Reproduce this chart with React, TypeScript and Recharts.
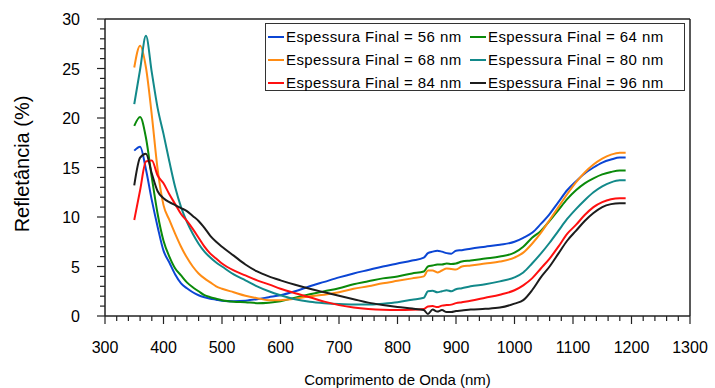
import React from "react";
import { LineChart, Line, XAxis, YAxis, Legend, ReferenceLine } from "recharts";

// wavelength (nm) shared by every series
const WAVELENGTHS = [
  350, 360, 370, 380, 390, 400, 410, 420, 430, 440, 450, 460, 470, 480, 490, 500,
  520, 540, 560, 580, 600, 625, 650, 675, 700, 725, 750, 775, 800, 825, 845, 852,
  860, 868, 876, 884, 892, 900, 910, 925, 950, 975, 1000, 1015, 1030, 1045, 1060,
  1075, 1090, 1105, 1120, 1135, 1150, 1165, 1180, 1190,
];

// reflectance (%) per final thickness
const R56 = [
  16.7, 17.1, 14.8, 11.7, 9.0, 6.6, 5.4, 4.2, 3.3, 2.8, 2.4, 2.1, 1.9, 1.75, 1.65, 1.55,
  1.5, 1.55, 1.7, 1.9, 2.1, 2.5, 3.0, 3.45, 3.9, 4.3, 4.65, 5.0, 5.3, 5.6, 5.9, 6.35,
  6.5, 6.6, 6.5, 6.35, 6.3, 6.6, 6.65, 6.8, 7.0, 7.2, 7.5, 7.9, 8.4, 9.3, 10.3,
  11.5, 12.7, 13.6, 14.4, 15.0, 15.5, 15.8, 16.0, 16.0,
];
const R64 = [
  19.2, 20.1, 18.0, 14.0, 10.3, 7.6, 6.0, 4.8, 4.1, 3.4, 2.9, 2.5, 2.1, 1.9, 1.75, 1.6,
  1.45, 1.4, 1.3, 1.35, 1.5, 1.85, 2.2, 2.5, 2.8, 3.2, 3.5, 3.8, 4.0, 4.3, 4.5, 5.0,
  5.1, 5.2, 5.2, 5.3, 5.25, 5.3, 5.5, 5.6, 5.8, 6.0, 6.4, 7.0, 7.9, 8.6, 9.6,
  10.7, 11.8, 12.7, 13.4, 13.9, 14.3, 14.55, 14.7, 14.7,
];
const R68 = [
  25.1, 27.3, 25.1, 20.3, 14.8, 11.2, 9.7, 8.3, 7.0, 5.9, 5.0, 4.3, 3.8, 3.4, 3.0, 2.75,
  2.4, 2.05, 1.8, 1.6, 1.6, 1.75, 2.0, 2.15, 2.4, 2.75, 3.0, 3.3, 3.55, 3.8, 4.0, 4.6,
  4.6, 4.4, 4.6, 4.8, 4.75, 4.7, 5.0, 5.1, 5.3, 5.5, 5.9, 6.4, 7.3, 8.4, 9.7,
  11.0, 12.3, 13.5, 14.5, 15.3, 15.9, 16.3, 16.5, 16.5,
];
const R80 = [
  21.4, 24.9, 28.3, 24.6, 21.0, 18.4, 15.6, 13.0, 11.0, 9.5, 8.3, 7.3, 6.5, 5.9, 5.4, 5.0,
  4.2, 3.6, 3.0, 2.5, 2.1, 1.7, 1.45, 1.3, 1.2, 1.15, 1.15, 1.25, 1.4, 1.65, 1.85, 2.5,
  2.55, 2.4, 2.5, 2.6, 2.5, 2.7, 2.8, 3.0, 3.2, 3.5, 3.9, 4.4, 5.3, 6.3, 7.4,
  8.6, 9.8, 10.8, 11.7, 12.5, 13.1, 13.5, 13.7, 13.7,
];
const R84 = [
  9.7, 12.7, 15.6, 15.7, 14.2, 13.4, 12.3, 11.3, 10.3, 9.6, 8.8, 7.9, 7.0, 6.3, 5.8, 5.3,
  4.6, 4.1, 3.6, 3.2, 2.75, 2.3, 1.9, 1.45, 1.1, 0.85, 0.7, 0.62, 0.6, 0.62, 0.7, 0.95,
  1.0, 0.9, 1.05, 1.1, 1.15, 1.3, 1.4, 1.55, 1.85, 2.15, 2.6, 3.1, 3.8, 4.8, 5.8,
  7.0, 8.3, 9.2, 10.2, 11.0, 11.5, 11.8, 11.9, 11.9,
];
const R96 = [
  13.2, 16.0, 16.4, 14.4, 12.6, 11.9, 11.5, 11.2, 10.9, 10.6, 10.1, 9.6, 8.9, 8.1, 7.5, 7.0,
  6.1, 5.2, 4.5, 4.0, 3.6, 3.15, 2.75, 2.4, 2.05, 1.7, 1.35, 1.1, 0.9, 0.75, 0.6, 0.2,
  0.65, 0.45, 0.6, 0.4, 0.4, 0.5, 0.55, 0.65, 0.72, 0.85, 1.25, 1.6, 2.6, 3.9, 5.0,
  6.3, 7.6, 8.6, 9.6, 10.4, 11.0, 11.3, 11.4, 11.4,
];

const X_MAJOR = [300, 400, 500, 600, 700, 800, 900, 1000, 1100, 1200, 1300];
const Y_MAJOR = [0, 5, 10, 15, 20, 25, 30];

const SERIES = [
  { key: "s56", label: "Espessura Final = 56 nm", color: "#0b45d4", values: R56 },
  { key: "s64", label: "Espessura Final = 64 nm", color: "#0a8a0a", values: R64 },
  { key: "s68", label: "Espessura Final = 68 nm", color: "#ff8c14", values: R68 },
  { key: "s80", label: "Espessura Final = 80 nm", color: "#12898a", values: R80 },
  { key: "s84", label: "Espessura Final = 84 nm", color: "#ff1010", values: R84 },
  { key: "s96", label: "Espessura Final = 96 nm", color: "#1c1c1c", values: R96 },
];

const data = WAVELENGTHS.map((w, i) => {
  const row: Record<string, number> = { w };
  SERIES.forEach((s) => (row[s.key] = s.values[i]));
  return row;
});

// minor ticks every 20 nm / 1 %
const xTicks: number[] = [];
for (let v = 300; v <= 1300; v += 20) xTicks.push(v);
const yTicks: number[] = [];
for (let v = 0; v <= 30; v += 1) yTicks.push(v);

const FONT = "'Liberation Sans', Arial, sans-serif";
const AXIS = "#222";

const XTick = (props: any) => {
  const { x, y, payload } = props;
  const major = X_MAJOR.includes(payload.value);
  return (
    <g>
      <line x1={x} x2={x} y1={y} y2={y + (major ? 8 : 5)} stroke={AXIS} strokeWidth={1.2} />
      {major && (
        <text x={x} y={y + 37} textAnchor="middle" fontSize={16} fontFamily={FONT} fill="#000">
          {payload.value}
        </text>
      )}
    </g>
  );
};

const YTick = (props: any) => {
  const { x, y, payload } = props;
  const major = Y_MAJOR.includes(payload.value);
  return (
    <g>
      <line x1={x} x2={x - (major ? 8 : 5)} y1={y} y2={y} stroke={AXIS} strokeWidth={1.2} />
      {major && (
        <text x={x - 25} y={y + 6} textAnchor="end" fontSize={16} fontFamily={FONT} fill="#000">
          {payload.value}
        </text>
      )}
    </g>
  );
};

const LegendBox = () => (
  <div
    style={{
      position: "relative",
      width: 420,
      height: 68,
      border: "1px solid #333",
      boxSizing: "border-box",
      background: "#fff",
      fontFamily: FONT,
    }}
  >
    {SERIES.map((s, i) => (
      <div
        key={s.key}
        style={{
          position: "absolute",
          left: (i % 2) * 202 + 2,
          top: Math.floor(i / 2) * 23 + 1,
          height: 23,
          display: "flex",
          alignItems: "center",
          whiteSpace: "nowrap",
        }}
      >
        <span style={{ display: "inline-block", width: 16, height: 2, background: s.color }} />
        <span style={{ marginLeft: 2, fontSize: 15, letterSpacing: 0.4, color: "#000" }}>{s.label}</span>
      </div>
    ))}
  </div>
);

export default function App() {
  return (
    <div style={{ position: "absolute", left: 0, top: 0, width: 715, height: 388, background: "#fff" }}>
      <LineChart width={715} height={388} data={data} margin={{ top: 19, right: 25, left: 0, bottom: 0 }}>
        <XAxis
          dataKey="w"
          type="number"
          domain={[300, 1300]}
          ticks={xTicks}
          interval={0}
          height={72}
          tickSize={0}
          tickMargin={0}
          tickLine={false}
          axisLine={{ stroke: AXIS, strokeWidth: 1.5 }}
          tick={<XTick />}
          label={{
            value: "Comprimento de Onda (nm)",
            position: "insideBottom",
            offset: 3,
            fontSize: 15,
            fontFamily: FONT,
            fill: "#000",
          }}
        />
        <YAxis
          type="number"
          domain={[0, 30]}
          ticks={yTicks}
          interval={0}
          width={105}
          tickSize={0}
          tickMargin={0}
          tickLine={false}
          axisLine={{ stroke: AXIS, strokeWidth: 1.5 }}
          tick={<YTick />}
          label={{
            content: () => (
              <text
                x={22}
                y={164}
                transform="rotate(-90 22 164)"
                textAnchor="middle"
                dominantBaseline="central"
                fontSize={20}
                fontFamily={FONT}
                fill="#000"
              >
                Refletância (%)
              </text>
            ),
          }}
        />
        <ReferenceLine y={30} stroke={AXIS} strokeWidth={1.5} />
        <ReferenceLine x={1300} stroke={AXIS} strokeWidth={1.5} />
        {SERIES.map((s) => (
          <Line
            key={s.key}
            type="monotone"
            dataKey={s.key}
            stroke={s.color}
            strokeWidth={2}
            dot={false}
            isAnimationActive={false}
          />
        ))}
        <Legend
          layout="vertical"
          align="center"
          verticalAlign="middle"
          wrapperStyle={{ left: 265, top: 23, width: 420, height: 68 }}
          content={() => <LegendBox />}
        />
      </LineChart>
    </div>
  );
}
